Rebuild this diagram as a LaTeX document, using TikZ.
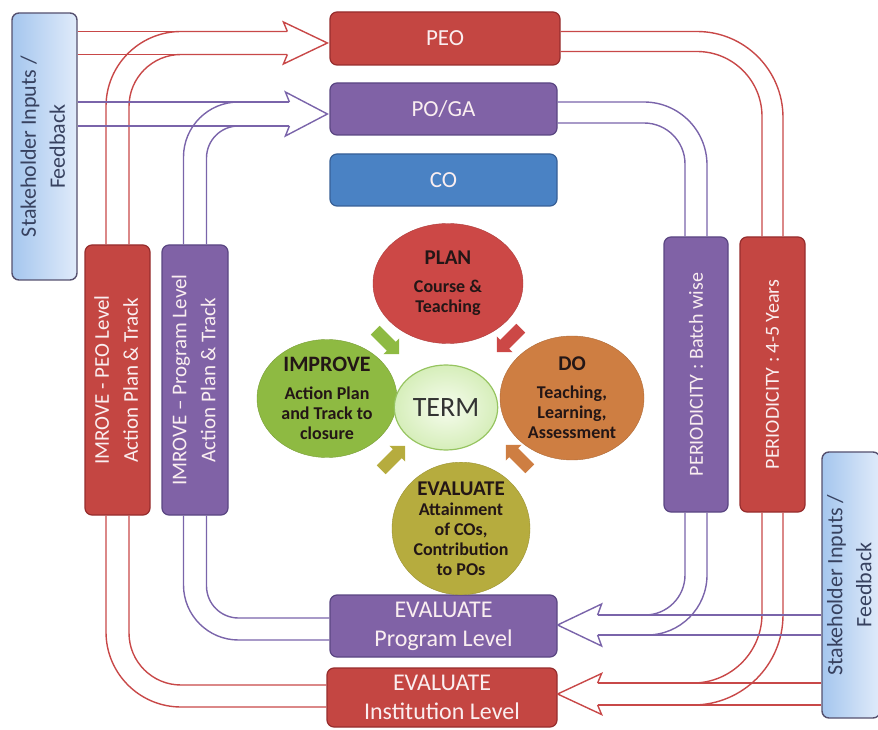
\documentclass[tikz,border=0pt]{standalone}
\usepackage{fontspec}
\setmainfont{Carlito}
\usetikzlibrary{shapes.geometric,shapes.arrows,calc}

\definecolor{peored}{RGB}{196,70,66}
\definecolor{peoedge}{RGB}{150,45,45}
\definecolor{popurple}{RGB}{128,98,166}
\definecolor{poedge}{RGB}{90,70,130}
\definecolor{coblue}{RGB}{74,130,196}
\definecolor{coedge}{RGB}{55,95,150}
\definecolor{stkdark}{RGB}{165,198,238}
\definecolor{stklight}{RGB}{224,235,250}
\definecolor{stkedge}{RGB}{85,80,110}
\definecolor{stktext}{RGB}{55,65,95}
\definecolor{boxtext}{RGB}{250,238,240}
\definecolor{planred}{RGB}{204,72,70}
\definecolor{doorange}{RGB}{206,126,66}
\definecolor{evalolive}{RGB}{182,172,62}
\definecolor{impgreen}{RGB}{142,186,66}
\definecolor{termin}{RGB}{246,252,238}
\definecolor{termfill}{RGB}{214,238,186}
\definecolor{termedge}{RGB}{150,196,96}
\definecolor{redline}{RGB}{200,72,72}
\definecolor{purpline}{RGB}{122,100,170}
\definecolor{circtext}{RGB}{35,22,22}

% rotated two-line label for the upright boxes
\newcommand{\sidelabel}[1]{\rotatebox{90}{\begin{tabular}{@{}c@{}}#1\end{tabular}}}

\tikzset{
  hbox/.style={rounded corners=7pt, line width=1.2pt, text=boxtext,
    font=\fontsize{23}{29}\selectfont, align=center, inner sep=0pt},
  redbox/.style={hbox, draw=peoedge, fill=peored},
  purpbox/.style={hbox, draw=poedge, fill=popurple},
  bluebox/.style={hbox, draw=coedge, fill=coblue},
  tallbox/.style={font=\fontsize{21}{29}\selectfont},
  stakebox/.style={rounded corners=7pt, line width=1.4pt, draw=stkedge,
    left color=stkdark, right color=stklight, text=stktext,
    font=\fontsize{22}{29}\selectfont, inner sep=0pt},
  stagenode/.style={ellipse, inner sep=0pt, text=circtext, align=center,
    font=\fontsize{18}{20}\selectfont\bfseries},
  pipered/.style={draw=redline, line width=1.4pt},
  pipepurp/.style={draw=purpline, line width=1.4pt},
  cycarrow/.style={single arrow, minimum height=34pt, inner sep=6pt,
    single arrow head extend=5pt},
}

\begin{document}
\begin{tikzpicture}[x=1pt,y=1pt]
\useasboundingbox (0,0) rectangle (878,729);

% boxes
\node (stakeL) at (44.5,582.5) [stakebox, minimum width=65pt, minimum height=267pt] {\sidelabel{Stakeholder Inputs /\\Feedback}};
\node (stakeR) at (851,144) [stakebox, minimum width=52pt, minimum height=266pt] {\sidelabel{Stakeholder Inputs /\\Feedback}};
\node (peo) at (445,690.5) [redbox, minimum width=230pt, minimum height=53pt] {PEO};
\node (poga) at (443.5,620) [purpbox, minimum width=227pt, minimum height=52pt] {PO/GA};
\node (co) at (443.5,549) [bluebox, minimum width=227pt, minimum height=52pt] {CO};
\node (impeo) at (117.5,349) [redbox, tallbox, minimum width=65pt, minimum height=270pt] {\sidelabel{IMROVE - PEO Level\\Action Plan \& Track}};
\node (improg) at (195,349) [purpbox, tallbox, minimum width=66pt, minimum height=270pt] {\sidelabel{IMROVE -- Program Level\\Action Plan \& Track}};
\node (perprog) at (696,354.5) [purpbox, tallbox, font=\fontsize{20}{24}\selectfont, minimum width=64pt, minimum height=275pt] {\rotatebox{90}{PERIODICITY : Batch wise}};
\node (perpeo) at (772.5,354.5) [redbox, tallbox, font=\fontsize{20}{24}\selectfont, minimum width=65pt, minimum height=275pt] {\rotatebox{90}{PERIODICITY : 4-5 Years}};
\node (evprog) at (443.5,103) [purpbox, font=\fontsize{24}{29}\selectfont, minimum width=227pt, minimum height=62pt] {EVALUATE\\Program Level};
\node (evinst) at (442,31.5) [redbox, font=\fontsize{24}{29}\selectfont, minimum width=230pt, minimum height=59pt] {EVALUATE\\Institution Level};

% cycle
\node (plan) at (448,445.5) [stagenode, fill=planred, draw=planred!85!black, minimum width=150pt, minimum height=120pt] {{\fontsize{21}{24}\selectfont PLAN}\\[8pt]Course \&\\Teaching};
\node (do) at (572,331) [stagenode, fill=doorange, draw=doorange!85!black, minimum width=144pt, minimum height=124pt] {{\fontsize{21}{24}\selectfont DO}\\[8pt]Teaching,\\Learning,\\Assessment};
\node (eval) at (461,200.5) [stagenode, fill=evalolive, draw=evalolive!85!black, minimum width=138pt, minimum height=116pt] {{\fontsize{21}{24}\selectfont EVALUATE}\\[0pt]Attainment\\of COs,\\Contribution\\to POs};
\node (improve) at (327,330.5) [stagenode, fill=impgreen, draw=impgreen!85!black, minimum width=140pt, minimum height=118pt] {{\fontsize{22}{24}\selectfont IMPROVE}\\[8pt]Action Plan\\and Track to\\closure};
\node (term) at (446,321.5) [ellipse, inner color=termin, outer color=termfill, draw=termedge, line width=1.2pt, minimum width=98pt, minimum height=85pt, font=\fontsize{28}{32}\selectfont, text=black!80] {TERM};

\node (plando) at (511,391) [cycarrow, fill=planred, rotate=-135] {};
\node (doeval) at (520,270) [cycarrow, fill=doorange, rotate=135] {};
\node (evalimp) at (391,269) [cycarrow, fill=evalolive, rotate=45] {};
\node (impplan) at (385,389) [cycarrow, fill=impgreen, rotate=-45] {};

% arrow ends
\coordinate (peotip) at ([xshift=-2pt,yshift=-4.5pt]peo.west);
\coordinate (peoin) at ([xshift=-40pt]peotip);
\coordinate (potip) at ([xshift=-2pt,yshift=-5pt]poga.west);
\coordinate (poin) at ([xshift=-38pt]potip);
\coordinate (progtip) at ([yshift=1pt]evprog.east);
\coordinate (progin) at ([xshift=40pt]progtip);
\coordinate (insttip) at ([yshift=3.5pt]evinst.east);
\coordinate (instin) at ([xshift=40pt]insttip);

% red loop
\draw[pipered] ($(stakeL.east |- peoin)+(0,11.5)$) -- ([yshift=11.5pt]peoin);
\draw[pipered] ($(stakeL.east |- peoin)+(0,-11.5)$) -- ([yshift=-11.5pt]peoin);
\draw[pipered, rounded corners=75pt] ([xshift=-11.5pt]impeo.north) |- ([yshift=11.5pt]peoin);
\draw[pipered, rounded corners=52pt] ([xshift=11.5pt]impeo.north) |- ([yshift=-11.5pt]peoin);
\draw[pipered, fill=white] (peotip) ++(-40,11.5) -- ++(-4,9.5) -- (peotip) -- ++(-44,-21) -- ++(4,9.5);
\draw[pipered, rounded corners=86pt] ([yshift=7pt]peo.east) -| ([xshift=10.5pt]perpeo.north);
\draw[pipered, rounded corners=65pt] ([yshift=-13pt]peo.east) -| ([xshift=-10.5pt]perpeo.north);
\draw[pipered, rounded corners=90pt] ([xshift=10.5pt]perpeo.south) |- ([yshift=-11pt]instin);
\draw[pipered, rounded corners=69pt] ([xshift=-10.5pt]perpeo.south) |- ([yshift=11pt]instin);
\draw[pipered] ($(stakeR.west |- instin)+(0,11)$) -- ([yshift=11pt]instin);
\draw[pipered] ($(stakeR.west |- instin)+(0,-11)$) -- ([yshift=-11pt]instin);
\draw[pipered, fill=white] (insttip) ++(40,11) -- ++(4,9.5) -- (insttip) -- ++(44,-20.5) -- ++(-4,9.5);
\draw[pipered, rounded corners=75pt] ([yshift=-9.5pt]evinst.west) -| ([xshift=-11.5pt]impeo.south);
\draw[pipered, rounded corners=52pt] ([yshift=12.5pt]evinst.west) -| ([xshift=11.5pt]impeo.south);

% purple loop
\draw[pipepurp] ($(stakeL.east |- poin)+(0,12)$) -- ([yshift=12pt]poin);
\draw[pipepurp] ($(stakeL.east |- poin)+(0,-12)$) -- ([yshift=-12pt]poin);
\draw[pipepurp, rounded corners=55pt] ([xshift=-11.5pt]improg.north) |- ([yshift=12pt]poin);
\draw[pipepurp, rounded corners=32pt] ([xshift=11.5pt]improg.north) |- ([yshift=-12pt]poin);
\draw[pipepurp, fill=white] (potip) ++(-38,12) -- ++(-4,10) -- (potip) -- ++(-42,-22) -- ++(4,10);
\draw[pipepurp, rounded corners=63pt] ([yshift=7pt]poga.east) -| ([xshift=11pt]perprog.north);
\draw[pipepurp, rounded corners=41pt] ([yshift=-14pt]poga.east) -| ([xshift=-11pt]perprog.north);
\draw[pipepurp, rounded corners=60pt] ([xshift=11pt]perprog.south) |- ([yshift=-10pt]progin);
\draw[pipepurp, rounded corners=40pt] ([xshift=-11pt]perprog.south) |- ([yshift=10pt]progin);
\draw[pipepurp] ($(stakeR.west |- progin)+(0,10)$) -- ([yshift=10pt]progin);
\draw[pipepurp] ($(stakeR.west |- progin)+(0,-10)$) -- ([yshift=-10pt]progin);
\draw[pipepurp, fill=white] (progtip) ++(40,10) -- ++(4,11) -- (progtip) -- ++(44,-21) -- ++(-4,11);
\draw[pipepurp, rounded corners=55pt] ([yshift=-14pt]evprog.west) -| ([xshift=-11.5pt]improg.south);
\draw[pipepurp, rounded corners=32pt] ([yshift=8pt]evprog.west) -| ([xshift=11.5pt]improg.south);
\end{tikzpicture}
\end{document}
